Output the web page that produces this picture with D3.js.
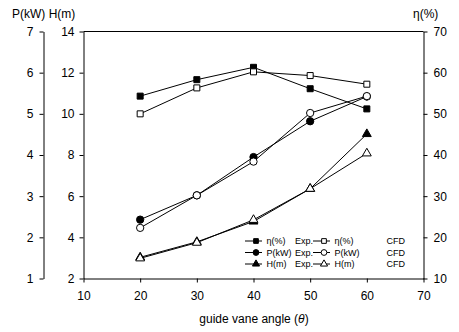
<!DOCTYPE html>
<html>
<head>
<meta charset="utf-8">
<script src="https://cdn.jsdelivr.net/npm/d3@7"></script>
<style>
  body { margin: 0; background: #fff; }
  svg { font-family: "Liberation Sans", Arial, sans-serif; }
</style>
</head>
<body>
<div id="graph"></div>
<script>
// guide vane angles
const angles = [20, 30, 40, 50, 60];
// efficiency (%)
const etaExp = [54.3, 58.3, 61.3, 56.1, 51.2];
const etaCfd = [50.0, 56.3, 60.2, 59.3, 57.2];
// power (kW)
const powerExp = [2.43, 3.02, 3.95, 4.82, 5.42];
const powerCfd = [2.23, 3.02, 3.84, 5.02, 5.43];
// head (m)
const headExp = [3.03, 3.78, 4.77, 6.36, 9.02];
const headCfd = [2.98, 3.74, 4.85, 6.36, 8.08];
// ticks
const xTicks = [10, 20, 30, 40, 50, 60, 70];
const pTicks = [1, 2, 3, 4, 5, 6, 7];
const hTicks = [2, 4, 6, 8, 10, 12, 14];
const etaTicks = [10, 20, 30, 40, 50, 60, 70];

const width = 459, height = 332;
const plotLeft = 83.5, plotRight = 423.5, plotTop = 31.5, plotBottom = 278.5;

const svg = d3.select("#graph").append("svg")
  .attr("width", width).attr("height", height);

const x = d3.scaleLinear().domain([10, 70]).range([plotLeft, plotRight]);
const yP = d3.scaleLinear().domain([1, 7]).range([plotBottom, plotTop]);
const yH = d3.scaleLinear().domain([2, 14]).range([plotBottom, plotTop]);
const yEta = d3.scaleLinear().domain([10, 70]).range([plotBottom, plotTop]);

function styleAxis(g) {
  g.selectAll("path, line").attr("stroke", "#000");
  g.selectAll("text").attr("fill", "#000").style("font-size", "12px");
}

// frame top line
svg.append("line")
  .attr("x1", plotLeft).attr("x2", plotRight).attr("y1", plotTop).attr("y2", plotTop)
  .attr("stroke", "#000");

// x axis
svg.append("g")
  .attr("transform", "translate(0," + plotBottom + ")")
  .call(d3.axisBottom(x).tickValues(xTicks).tickSize(4).tickSizeOuter(0).tickPadding(9))
  .call(styleAxis);

// H axis
svg.append("g")
  .attr("transform", "translate(" + plotLeft + ",0)")
  .call(d3.axisLeft(yH).tickValues(hTicks).tickSize(4).tickSizeOuter(0).tickPadding(5))
  .call(styleAxis);

// P axis (outer)
svg.append("g")
  .attr("transform", "translate(43.5,0)")
  .call(d3.axisLeft(yP).tickValues(pTicks).tickFormat(d3.format("d")).tickSize(4).tickSizeOuter(0).tickPadding(6))
  .call(styleAxis);

// eta axis
svg.append("g")
  .attr("transform", "translate(" + plotRight + ",0)")
  .call(d3.axisRight(yEta).tickValues(etaTicks).tickSize(4).tickSizeOuter(0).tickPadding(6))
  .call(styleAxis);

// axis labels
svg.append("text").attr("x", 12).attr("y", 18).style("font-size", "12px").text("P(kW) H(m)");
svg.append("text").attr("x", 413).attr("y", 18).style("font-size", "12px").text("η(%)");
const xt = svg.append("text").attr("x", 254).attr("y", 323).attr("text-anchor", "middle").style("font-size", "12px");
xt.append("tspan").text("guide vane angle (");
xt.append("tspan").style("font-style", "italic").text("θ");
xt.append("tspan").text(")");

const series = [
  { name: "η(%)", kind: "Exp.", vals: etaExp, y: yEta, shape: "square", fill: "#000" },
  { name: "η(%)", kind: "CFD", vals: etaCfd, y: yEta, shape: "square", fill: "#fff" },
  { name: "P(kW)", kind: "Exp.", vals: powerExp, y: yP, shape: "circle", fill: "#000" },
  { name: "P(kW)", kind: "CFD", vals: powerCfd, y: yP, shape: "circle", fill: "#fff" },
  { name: "H(m)", kind: "Exp.", vals: headExp, y: yH, shape: "triangle", fill: "#000" },
  { name: "H(m)", kind: "CFD", vals: headCfd, y: yH, shape: "triangle", fill: "#fff" }
];

const symbols = {
  square: d3.symbol().type(d3.symbolSquare).size(36),
  circle: d3.symbol().type(d3.symbolCircle).size(42),
  triangle: d3.symbol().type(d3.symbolTriangle).size(34)
};
const legendSymbols = {
  square: d3.symbol().type(d3.symbolSquare).size(22),
  circle: d3.symbol().type(d3.symbolCircle).size(26),
  triangle: d3.symbol().type(d3.symbolTriangle).size(22)
};

const line = d3.line();

series.forEach(s => {
  const pts = angles.map((a, i) => [x(a), s.y(s.vals[i])]);
  svg.append("path")
    .attr("d", line(pts))
    .attr("fill", "none").attr("stroke", "#000").attr("stroke-width", 1);
  svg.append("g").selectAll("path")
    .data(pts)
    .join("path")
      .attr("d", symbols[s.shape])
      .attr("transform", d => "translate(" + d[0] + "," + d[1] + ")")
      .attr("fill", s.fill).attr("stroke", "#000").attr("stroke-width", 1);
});

// legend
const legend = svg.append("g").style("font-size", "9px");
series.forEach((s, i) => {
  const col = i % 2, row = Math.floor(i / 2);
  const lx = col === 0 ? 245 : 313;
  const ly = 241 + row * 11.5;
  legend.append("line")
    .attr("x1", lx).attr("x2", lx + 17).attr("y1", ly).attr("y2", ly)
    .attr("stroke", "#000");
  legend.append("path")
    .attr("d", legendSymbols[s.shape])
    .attr("transform", "translate(" + (lx + 11) + "," + ly + ")")
    .attr("fill", s.fill).attr("stroke", "#000");
  legend.append("text").attr("x", lx + 21.5).attr("y", ly + 3.2).text(s.name);
  legend.append("text").attr("x", col === 0 ? 295 : 386.5).attr("y", ly + 3.2).text(s.kind);
});
</script>
</body>
</html>
